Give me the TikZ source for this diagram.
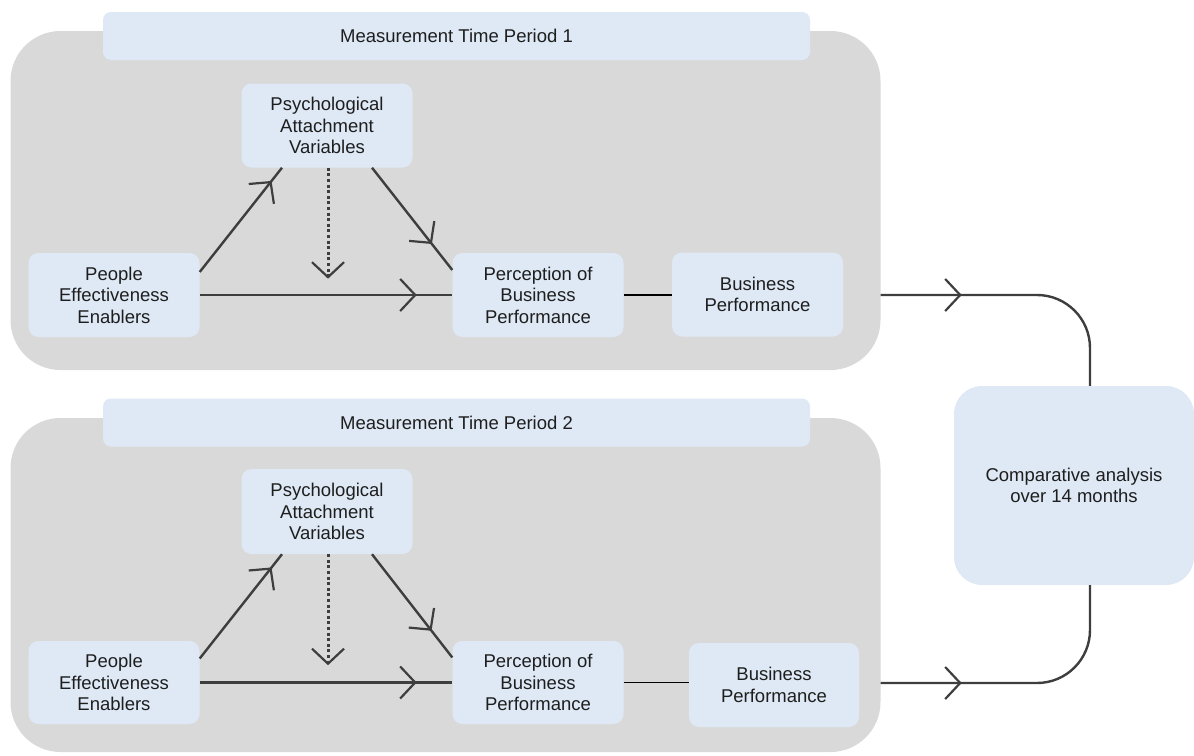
\documentclass[tikz,border=0pt]{standalone}
\usepackage{fontspec}
\setmainfont{Liberation Sans}
\usetikzlibrary{arrows.meta,decorations.markings,calc}
\definecolor{panelgray}{HTML}{D9D9D9}
\definecolor{boxblue}{HTML}{DEE9F5}
\definecolor{txt}{HTML}{1E1E1E}
\definecolor{ln}{HTML}{3E3E3E}
\begin{document}
\begin{tikzpicture}[x=1pt,y=-1pt,
  panel/.style={fill=panelgray, rounded corners=50pt, minimum width=870pt, inner sep=0pt},
  titlebar/.style={fill=boxblue, rounded corners=8pt, minimum width=707pt, minimum height=48pt, inner sep=0pt, text=txt, font=\fontsize{18.5}{21.5}\selectfont},
  box/.style={fill=boxblue, rounded corners=10pt, minimum width=171pt, minimum height=84pt, align=center, inner sep=0pt, text=txt, font=\fontsize{18.5}{21.5}\selectfont},
  conn/.style={color=ln, line width=2.4pt},
  thinconn/.style={color=black, line width=1.5pt},
  dotconn/.style={color=ln, line width=3pt, dash pattern=on 3pt off 2.6pt, -{Straight Barb[length=15pt,width=32pt,line width=2.2pt]}},
  headat/.style={postaction={decorate},decoration={markings,mark=at position #1 with {\arrow{Straight Barb[length=15pt,width=32pt,line width=2.2pt]}}}}
]
\useasboundingbox (0,0) rectangle (1194,755);

% ---------- Period 1 ----------
\node[panel, minimum height=339pt] (P1) at (445.5,200.5) {};
\node[titlebar] (T1) at (456.5,36) {Measurement Time Period 1};
\node[box] (A1) at (327,125.5) {Psychological\\Attachment\\Variables};
\node[box] (E1) at (114,295) {People\\Effectiveness\\Enablers};
\node[box] (Q1) at (538,295) {Perception of\\Business\\Performance};
\node[box] (B1) at (757.5,294.5) {Business\\Performance};

\draw[conn, headat=116pt] ($(E1.east)+(0,-23)$) -- ($(A1.south)+(-45,0)$);
\draw[conn, headat=97pt] ($(A1.south)+(45,0)$) -- ($(Q1.west)+(0,-25)$);
\draw[conn, headat=217pt] (E1.east) -- (Q1.west);
\draw[dotconn] ($(A1.south)+(1,0)$) -- ++(0,111);
\draw[thinconn] (Q1.east) -- (Q1.east -| B1.west);

% ---------- Period 2 ----------
\node[panel, minimum height=334pt] (P2) at (445.5,585) {};
\node[titlebar] (T2) at (456.5,422.5) {Measurement Time Period 2};
\node[box, minimum height=85pt] (A2) at (327,511.5) {Psychological\\Attachment\\Variables};
\node[box, minimum height=83pt] (E2) at (114,682.5) {People\\Effectiveness\\Enablers};
\node[box, minimum height=83pt] (Q2) at (538,682.5) {Perception of\\Business\\Performance};
\node[box, minimum width=170pt] (B2) at (774,685) {Business\\Performance};

\draw[conn, headat=116pt] ($(E2.east)+(0,-24)$) -- ($(A2.south)+(-45,0)$);
\draw[conn, headat=97pt] ($(A2.south)+(45,0)$) -- ($(Q2.west)+(0,-25)$);
\draw[conn, headat=217pt] (E2.east) -- (Q2.west);
\draw[dotconn] ($(A2.south)+(1,0)$) -- ++(0,111);
\draw[thinconn] (Q2.east) -- (Q2.east -| B2.west);

% ---------- Comparative ----------
\node[box, minimum width=240pt, minimum height=199pt, rounded corners=28pt] (C) at (1074,485.5) {Comparative analysis\\over 14 months};
\coordinate (S1) at (P1.east |- 0,295);
\coordinate (S2) at (P2.east |- 0,683);
\coordinate (K1) at (1090,295);
\coordinate (K2) at (1090,683);
\draw[conn, headat=81pt, rounded corners=53pt] (S1) -- (K1) -- (K1 |- C.north);
\draw[conn, headat=81pt, rounded corners=53pt] (S2) -- (K2) -- (K2 |- C.south);
\end{tikzpicture}
\end{document}
